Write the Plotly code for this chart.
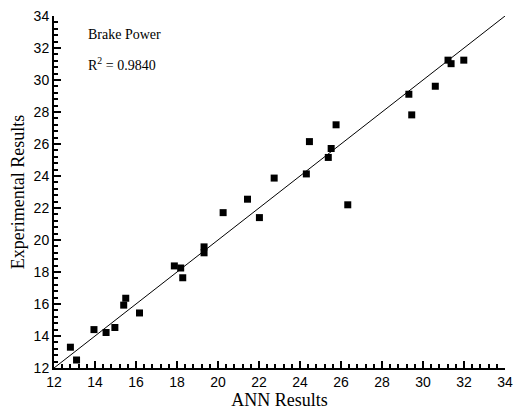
import plotly.graph_objects as go

ann_results = [12.80, 13.10, 13.95, 14.54, 14.97, 15.40, 15.50, 16.17, 17.87, 18.18,
               18.28, 19.32, 19.32, 20.25, 21.44, 22.02, 22.74, 24.31, 24.46, 25.38,
               25.52, 25.76, 26.33, 29.31, 29.45, 30.60, 31.22, 31.37, 31.99]
experimental = [13.30, 12.50, 14.40, 14.22, 14.53, 15.93, 16.36, 15.44, 18.38, 18.25,
                17.64, 19.57, 19.20, 21.71, 22.55, 21.40, 23.87, 24.13, 26.15, 25.16,
                25.72, 27.20, 22.20, 29.11, 27.82, 29.61, 31.24, 31.02, 31.24]
fit_line = [12, 34]
r2_text = "R<sup>2</sup> = 0.9840"
label_text = "Brake Power"

fig = go.Figure()
fig.add_trace(go.Scatter(x=fit_line, y=fit_line, mode="lines",
                         line=dict(color="black", width=1), showlegend=False))
fig.add_trace(go.Scatter(x=ann_results, y=experimental, mode="markers",
                         marker=dict(symbol="square", size=7, color="black"),
                         showlegend=False))

axis_common = dict(
    range=[12, 34], dtick=2, tick0=12, ticks="inside", ticklen=7, tickwidth=2,
    tickcolor="black", showline=True, linecolor="black", linewidth=2,
    showgrid=False, zeroline=False, mirror=False,
    tickfont=dict(family="Liberation Sans, Arial", size=14, color="black"),
    minor=dict(ticks="inside", ticklen=4, tickwidth=1.5, tickcolor="black",
               dtick=0.4, tick0=12, showgrid=False),
)

fig.update_layout(
    width=521, height=412,
    margin=dict(l=54, r=8, t=14, b=41),
    paper_bgcolor="white", plot_bgcolor="white",
    xaxis=dict(axis_common, title=dict(text="ANN Results", standoff=2,
               font=dict(family="Liberation Serif, Times New Roman", size=18, color="black"))),
    yaxis=dict(axis_common, title=dict(text="Experimental Results", standoff=4,
               font=dict(family="Liberation Serif, Times New Roman", size=18, color="black"))),
    annotations=[
        dict(text=label_text, x=87, y=33, xref="paper", yref="paper", showarrow=False),
        dict(text=r2_text, x=87, y=63, xref="paper", yref="paper", showarrow=False),
    ],
)
# convert pixel positions for annotations to paper coords
pw, ph = 521 - 54 - 8, 412 - 14 - 41
for a in fig.layout.annotations:
    a.x = (a.x - 54) / pw
    a.y = 1 - (a.y - 14) / ph
    a.xanchor = "left"
    a.yanchor = "middle"
    a.font = dict(family="Liberation Serif, Times New Roman", size=14, color="black")

fig.write_html("out.html")
